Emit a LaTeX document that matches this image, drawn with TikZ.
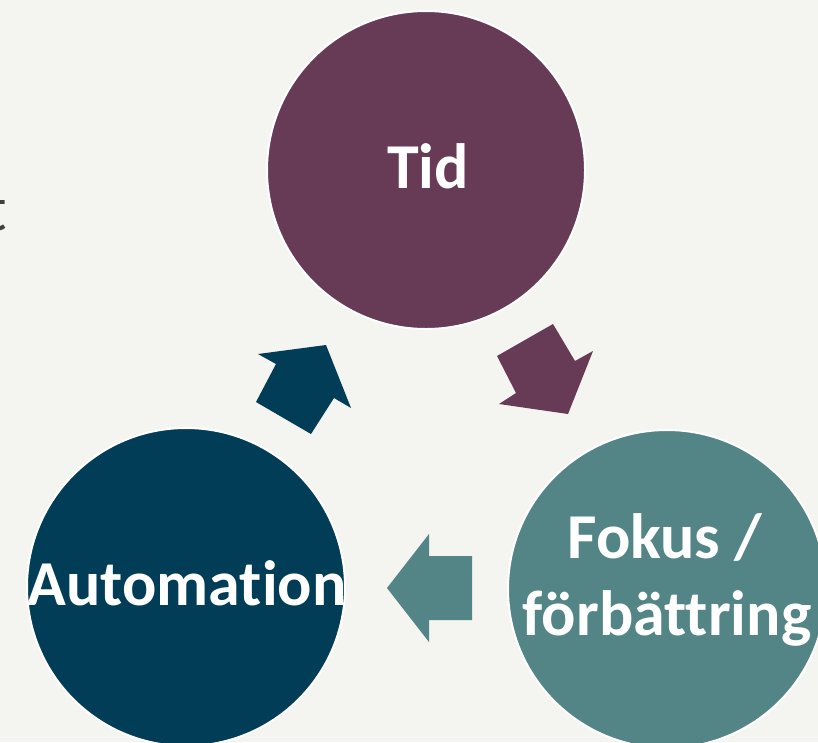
\documentclass[tikz,border=0pt]{standalone}
\usepackage{fontspec}
\setmainfont[Ligatures={NoCommon,NoRequired,NoContextual}]{Carlito}
\definecolor{bgc}{HTML}{F4F4F0}
\definecolor{tidc}{HTML}{673A55}
\definecolor{autoc}{HTML}{013D56}
\definecolor{fokc}{HTML}{538587}
\definecolor{grayc}{HTML}{404040}
\begin{document}
\begin{tikzpicture}[x=1pt,y=-1pt,
  bubble/.style={circle,minimum size=318pt,inner sep=0pt,draw=white,line width=2pt},
  lbl/.style={text=white,font=\fontsize{64}{77}\selectfont\bfseries,inner sep=0pt,align=center}]
\useasboundingbox (0,0) rectangle (818,742);
\fill[bgc] (0,0) rectangle (818,742);
\node[text=grayc,font=\fontsize{64}{77}\selectfont,inner sep=0pt,anchor=base east] (tfrag) at (7,230) {t};
\node[bubble,fill=tidc] (tid) at (426,170) {};
\node[bubble,fill=autoc] (auto) at (186,587) {};
\node[bubble,fill=fokc] (fok) at (667,589) {};
\node[lbl,anchor=base] (tidtxt) at (428,188) {Tid};
\node[lbl,anchor=base] (autotxt) at (187,605) {Automation};
\node[lbl,anchor=base] (foktxt1) at (665,558) {Fokus /};
\node[lbl,anchor=base] (foktxt2) at (667,635) {förbättring};
% arrows
\fill[tidc] (553,324) -- (497,356) -- (516,393) -- (499,404) -- (568,414) -- (593,351) -- (575,361) -- cycle;
\fill[fokc] (387,588) -- (429,534) -- (429,556) -- (472,556) -- (472,620) -- (429,620) -- (429,642) -- cycle;
\fill[autoc] (258,354) -- (326,345) -- (351,408) -- (334,398) -- (311,434) -- (256,402) -- (276,364) -- cycle;
\end{tikzpicture}
\end{document}
